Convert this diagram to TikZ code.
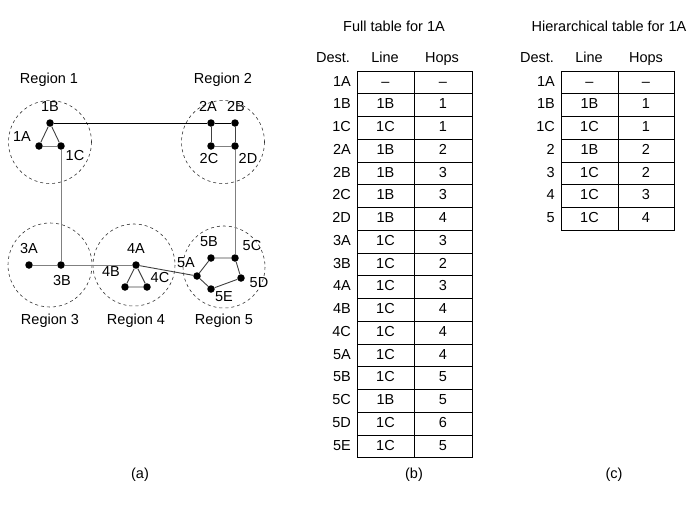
\documentclass[tikz,border=0pt]{standalone}
\usepackage{fontspec}
\setmainfont{Liberation Sans}
\begin{document}
\begin{tikzpicture}[x=1pt,y=-1pt,
  every node/.style={font=\fontsize{14.5}{17}\selectfont, inner sep=0pt, text height=10.4pt, text depth=3pt},
  router/.style={circle, fill=black, minimum size=7.5pt, inner sep=0pt, text height=0pt, text depth=0pt},
  region/.style={draw=black!80, dashed, line width=0.6pt},
  link/.style={line width=0.9pt, draw=black!75},
  glink/.style={line width=0.9pt, draw=black!50},
  blink/.style={line width=0.9pt, draw=black},
  cell/.style={draw, line width=0.9pt, minimum height=22.76pt, anchor=center},
  dest/.style={anchor=east}]
\useasboundingbox (0,0) rectangle (694,507);

% regions
\draw[region] (50,142) circle (41.5);
\draw[region] (223,142) circle (41.5);
\draw[region] (50,265) circle (42);
\draw[region] (134,265) circle (41);
\draw[region] (224,267) circle (41);

\node (r1) at (49,80) {Region 1};
\node (r2) at (223,80) {Region 2};
\node (r3) at (50,321) {Region 3};
\node (r4) at (136,321) {Region 4};
\node (r5) at (224,321) {Region 5};

% routers
\node[router] (1B) at (50,123) {};
\node[router] (1A) at (39,146) {};
\node[router] (1C) at (61,146) {};
\node[router] (2A) at (211,123) {};
\node[router] (2B) at (235,123) {};
\node[router] (2C) at (211,146) {};
\node[router] (2D) at (235,146) {};
\node[router] (3A) at (29,265) {};
\node[router] (3B) at (61,265) {};
\node[router] (4A) at (136,265) {};
\node[router] (4B) at (125,287) {};
\node[router] (4C) at (147,287) {};
\node[router] (5A) at (197,276) {};
\node[router] (5B) at (211,258) {};
\node[router] (5C) at (235,258) {};
\node[router] (5D) at (241,278) {};
\node[router] (5E) at (211,289) {};

% router labels
\node (l1B) at (50,108) {1B};
\node (l1A) at (22,138) {1A};
\node (l1C) at (75,157) {1C};
\node (l2A) at (208,108) {2A};
\node (l2B) at (236,108) {2B};
\node (l2C) at (209,160) {2C};
\node (l2D) at (248,160) {2D};
\node (l3A) at (29,250) {3A};
\node (l3B) at (62,282) {3B};
\node (l4A) at (136,250) {4A};
\node (l4B) at (111,273) {4B};
\node (l4C) at (160,279) {4C};
\node (l5A) at (186,264) {5A};
\node (l5B) at (209,243) {5B};
\node (l5C) at (252,247) {5C};
\node (l5D) at (259,284) {5D};
\node (l5E) at (224,298) {5E};

% links
\draw[link] (1A) -- (1B) -- (1C);
\draw[glink] (1A) -- (1C);
\draw[blink] (1B) -- (2A) -- (2B);
\draw[link] (2A) -- (2C);
\draw[glink] (2C) -- (2D);
\draw[link] (2B) -- (2D);
\draw[glink] (1C) -- (3B);
\draw[glink] (2D) -- (5C);
\draw[glink] (3A) -- (3B) -- (4A);
\draw[link] (4A) -- (4B) -- (4C) -- (4A);
\draw[link] (4A) -- (5A);
\draw[link] (5A) -- (5B) -- (5C) -- (5D) -- (5E) -- (5A);

\node (capa) at (140,475) {(a)};

% full table
\node (tb) at (394,28) {Full table for 1A};
\node (hbD) at (333,59) {Dest.};
\node (hbL) at (385,59) {Line};
\node (hbH) at (442,59) {Hops};
\foreach \d/\l/\h [count=\i from 0] in {1A/--/--,1B/1B/1,1C/1C/1,2A/1B/2,2B/1B/3,2C/1B/3,2D/1B/4,3A/1C/3,3B/1C/2,4A/1C/3,4B/1C/4,4C/1C/4,5A/1C/4,5B/1C/5,5C/1B/5,5D/1C/6,5E/1C/5}{
  \pgfmathsetmacro\yy{71+(\i+0.5)*22.76}
  \node[dest] (fd\i) at (351,\yy) {\d};
  \node[cell, minimum width=57pt] (fl\i) at (385.5,\yy) {\l};
  \node[cell, minimum width=58pt] (fh\i) at (443,\yy) {\h};
}
\node (capb) at (414,475) {(b)};

% hierarchical table
\node (tc) at (609,28) {Hierarchical table for 1A};
\node (hcD) at (537,59) {Dest.};
\node (hcL) at (589,59) {Line};
\node (hcH) at (646,59) {Hops};
\foreach \d/\l/\h [count=\i from 0] in {1A/--/--,1B/1B/1,1C/1C/1,2/1B/2,3/1C/2,4/1C/3,5/1C/4}{
  \pgfmathsetmacro\yy{71+(\i+0.5)*22.76}
  \node[dest] (hd\i) at (555,\yy) {\d};
  \node[cell, minimum width=57pt] (hl\i) at (589.5,\yy) {\l};
  \node[cell, minimum width=56pt] (hh\i) at (646,\yy) {\h};
}
\node (capc) at (614,475) {(c)};
\end{tikzpicture}
\end{document}
